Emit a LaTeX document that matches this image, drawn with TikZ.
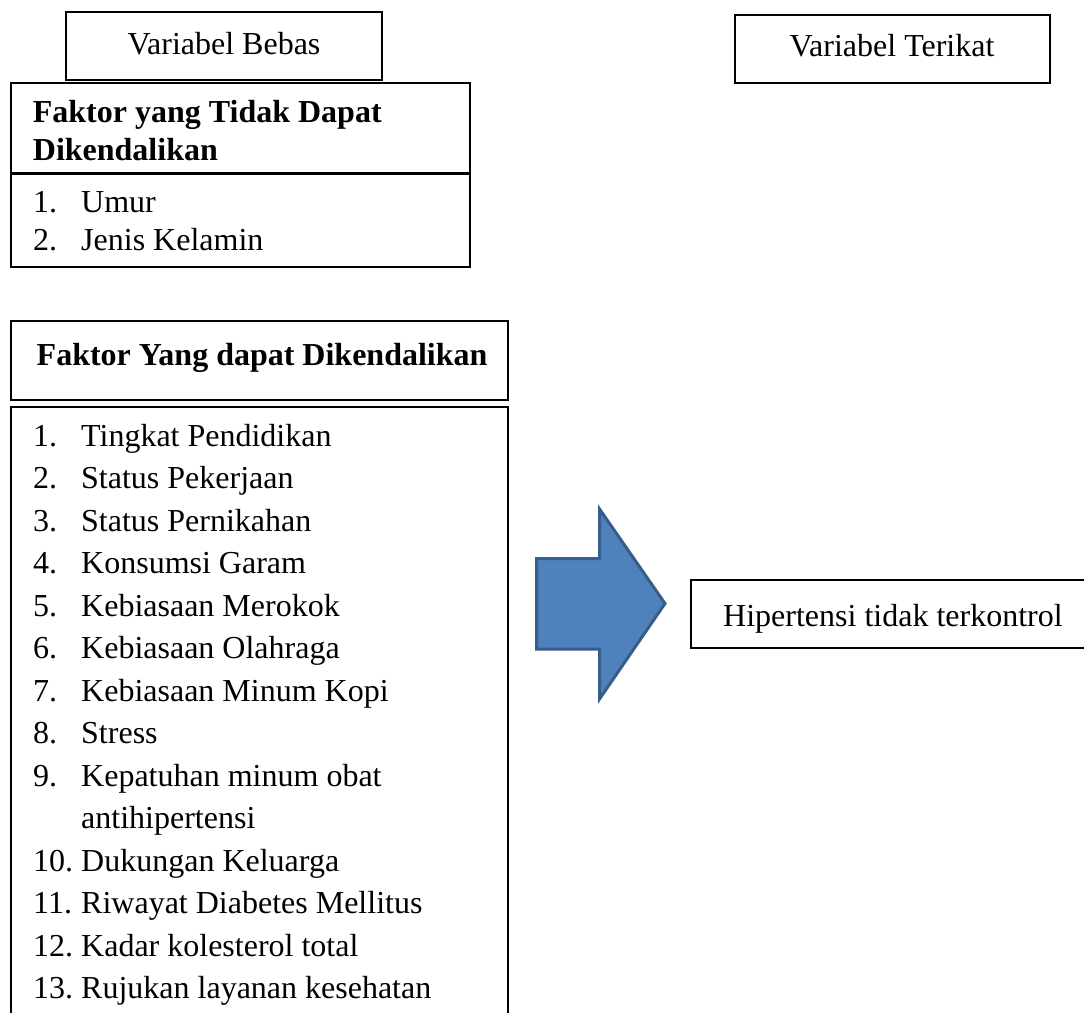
\documentclass[tikz,border=0pt]{standalone}
\usepackage{fontspec}
\setmainfont{Liberation Serif}
\definecolor{arrowfill}{HTML}{4F81BD}
\definecolor{arrowline}{HTML}{385D8A}
\begin{document}
\begin{tikzpicture}[x=1pt,y=-1pt,
  box/.style={draw=black,line width=1.6pt,inner sep=0pt,outer sep=0pt},
  txt/.style={anchor=base west,inner sep=0pt,font=\fontsize{32}{42}\selectfont},
  ctxt/.style={anchor=base,inner sep=0pt,font=\fontsize{32}{42}\selectfont},
  btxt/.style={txt,font=\fontsize{32}{42}\selectfont\bfseries}]
\useasboundingbox (0,0) rectangle (1084,1012);
\clip (0,0) rectangle (1084,1012);
\fill[white] (0,0) rectangle (1084,1012);

% Variabel Bebas
\node[box,minimum width=316,minimum height=68] (vb) at (224,46) {};
\node[ctxt] (vbt) at (224,54) {Variabel Bebas};

% Variabel Terikat
\node[box,minimum width=315,minimum height=68] (vt) at (892.5,49) {};
\node[ctxt] (vtt) at (892,56) {Variabel Terikat};

% Faktor yang Tidak Dapat Dikendalikan
\node[box,minimum width=459,minimum height=90] (h1) at (240.5,128) {};
\node[btxt] (h1a) at (32.7,122) {Faktor yang Tidak Dapat};
\node[btxt] (h1b) at (32.7,160) {Dikendalikan};
\node[box,minimum width=459,minimum height=94] (l1) at (240.5,220) {};
\draw[line width=3pt] (h1.south west) -- (h1.south east);
\node[txt] (l1n1) at (33,212) {1.};
\node[txt] (l1t1) at (81,212) {Umur};
\node[txt] (l1n2) at (33,250) {2.};
\node[txt] (l1t2) at (81,250) {Jenis Kelamin};

% Faktor Yang dapat Dikendalikan
\node[box,minimum width=497,minimum height=79] (h2) at (259.5,360.5) {};
\node[btxt] (h2a) at (36.5,365) {Faktor Yang dapat Dikendalikan};
\node[box,minimum width=497,minimum height=640] (l2) at (259.5,727) {};

\foreach \k/\n/\t in {0/1./Tingkat Pendidikan,1/2./Status Pekerjaan,2/3./Status Pernikahan,
  3/4./Konsumsi Garam,4/5./Kebiasaan Merokok,5/6./Kebiasaan Olahraga,
  6/7./Kebiasaan Minum Kopi,7/8./Stress,8/9./Kepatuhan minum obat,
  10/10./Dukungan Keluarga,11/11./Riwayat Diabetes Mellitus,
  12/12./Kadar kolesterol total,13/13./Rujukan layanan kesehatan}{
  \node[txt] (n\k) at (33,446+42.5*\k) {\n};
  \node[txt] (t\k) at (81,446+42.5*\k) {\t};
}
\node[txt] (t9) at (81,446+42.5*9) {antihipertensi};

% Arrow
\draw[fill=arrowfill,draw=arrowline,line width=3pt,line join=miter]
  (536.5,558.5) -- (599.5,558.5) -- (599.5,509) -- (665,603.5) -- (599.5,699)
  -- (599.5,649) -- (536.5,649) -- cycle;

% Hipertensi tidak terkontrol
\node[box,minimum width=420,minimum height=68] (hy) at (901,614) {};
\node[txt] (hyt) at (723,626) {Hipertensi tidak terkontrol};
\end{tikzpicture}
\end{document}
